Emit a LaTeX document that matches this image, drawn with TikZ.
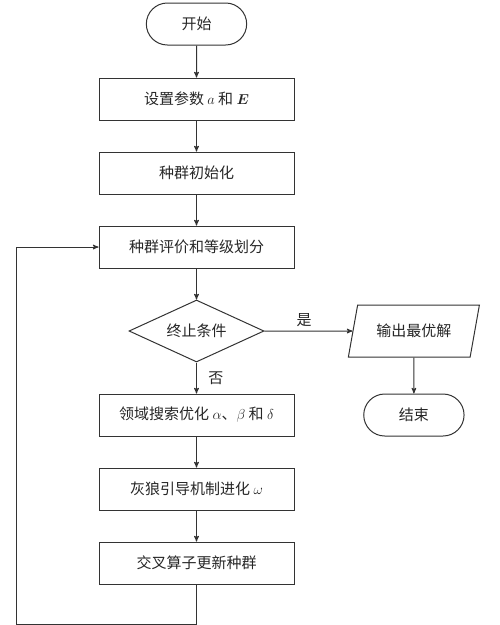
\documentclass[tikz,border=0pt]{standalone}
\usepackage{fontspec}
\usepackage{bm}
\newfontfamily\cjk{Noto Sans CJK SC}
\usetikzlibrary{arrows,shapes.geometric,shapes.misc,positioning}
\tikzset{node distance=31pt,
	every node/.style={
		font=\cjk\fontsize{15}{18}\selectfont,
		text=black!85
	},
	proc/.style={
		draw,
		rectangle,
		minimum width=195pt,
		minimum height=42pt
	},
	term/.style={
		draw,
		rounded rectangle,
		minimum width=107pt,
		minimum height=42pt
	},
	dec/.style={
		draw,
		diamond,
		aspect=2.2,
		inner sep=0pt,
		minimum width=135pt,
		minimum height=62pt
	},
	io/.style={
		draw,
		trapezium,
		trapezium left angle=70,
		trapezium right angle=110,
		trapezium stretches=true,
		inner sep=2pt,
		minimum width=132pt,
		minimum height=52pt
	},
	flow/.style={
		draw,
		->,>=stealth',
		line width=1pt
	}
}

\begin{document}
\begin{tikzpicture}[line width=1pt,draw=black!80]
		\useasboundingbox (0,0) rectangle (500pt,-625pt);
		\node[term] (start) at (196.5pt,-24pt) {开始};
		\node[proc, below=32pt of start] (param) {设置参数 $a$ 和 $\bm{E}$};
		\node[proc, below=of param] (init) {种群初始化};
		\node[proc, below=of init] (eval) {种群评价和等级划分};
		\node[dec, below=of eval] (stop) {终止条件};
		\node[proc, below=of stop] (search) {领域搜索优化 $\alpha$、$\beta$ 和 $\delta$};
		\node[proc, below=of search] (wolf) {灰狼引导机制进化 $\omega$};
		\node[proc, below=of wolf] (cross) {交叉算子更新种群};
		\node[io, right=88pt of stop] (out) {输出最优解};
		\node[term, below=36pt of out] (stopend) {结束};
		\coordinate[below=40pt of cross] (c1);
		\coordinate[left=82pt of eval] (c2);

		\draw[flow] (start) -- (param);
		\draw[flow] (param) -- (init);
		\draw[flow] (init) -- (eval);
		\draw[flow] (eval) -- (stop);
		\draw[flow] (stop) -- node[right=8pt]{否} (search);
		\draw[flow] (search) -- (wolf);
		\draw[flow] (wolf) -- (cross);
		\draw[flow] (stop) -- node[above, pos=0.45]{是} (out);
		\draw[flow] (out) -- (stopend);
		\draw[flow] (cross) -- (c1) -| (c2) -- (eval);
	\end{tikzpicture}
\end{document}
